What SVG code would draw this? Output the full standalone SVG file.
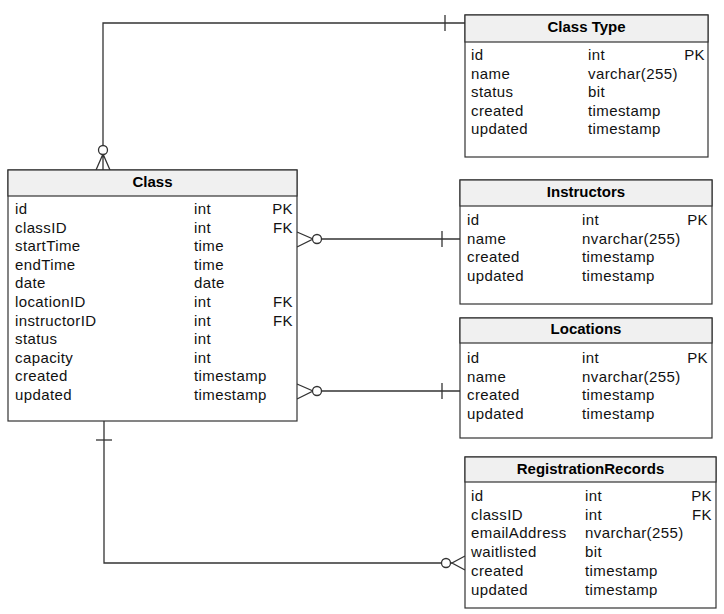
<svg xmlns="http://www.w3.org/2000/svg" width="724" height="614" viewBox="0 0 724 614">
  <style>
    .box { fill: #ffffff; stroke: #333333; stroke-width: 1.2; }
    .head { fill: #f0f0f0; stroke: #333333; stroke-width: 1.2; }
    .title { font-family: "Liberation Sans", Arial, sans-serif; font-size: 15px; font-weight: bold; fill: #000; text-anchor: middle; }
    .row { font-family: "Liberation Sans", Arial, sans-serif; font-size: 15px; fill: #111; letter-spacing: 0.4px; }
    .key { text-anchor: end; }
    .wire { fill: none; stroke: #333333; stroke-width: 1.3; }
    .ring { fill: #ffffff; stroke: #333333; stroke-width: 1.3; }
  </style>

  <!-- relationships -->
  <g id="connectors">
    <!-- Class (many, optional) to ClassType (one) -->
    <path class="wire" d="M103,154 V23 H465"/>
    <path class="wire" d="M445,15 V31"/>
    <path class="wire" d="M103,154 L96,170 M103,154 V170 M103,154 L110,170"/>
    <circle class="ring" cx="103" cy="150" r="4.5"/>

    <!-- Class (many, optional) to Instructors (one) -->
    <path class="wire" d="M313,239 H460"/>
    <path class="wire" d="M442,231 V247"/>
    <path class="wire" d="M297,232 L313,239 L297,247"/>
    <circle class="ring" cx="317" cy="239" r="4.5"/>

    <!-- Class (many, optional) to Locations (one) -->
    <path class="wire" d="M313,391 H460"/>
    <path class="wire" d="M442,383 V399"/>
    <path class="wire" d="M297,384 L313,391 L297,399"/>
    <circle class="ring" cx="317" cy="391" r="4.5"/>

    <!-- Class (one) to RegistrationRecords (many, optional) -->
    <path class="wire" d="M104,421 V563 H452"/>
    <path class="wire" d="M96,440 H112"/>
    <path class="wire" d="M465,556 L452,563 L465,570"/>
    <circle class="ring" cx="446" cy="563" r="4.5"/>
  </g>

  <!-- ClassType -->
  <g id="classtype">
    <rect class="box" x="465" y="15" width="243" height="142"/>
    <rect class="head" x="465" y="15" width="243" height="27"/>
    <text class="title" x="586.5" y="32">Class Type</text>
    <text class="row" x="471" y="60">id</text>
    <text class="row" x="588" y="60">int</text>
    <text class="row key" x="705" y="60">PK</text>
    <text class="row" x="471" y="78.5">name</text>
    <text class="row" x="588" y="78.5">varchar(255)</text>
    <text class="row" x="471" y="97">status</text>
    <text class="row" x="588" y="97">bit</text>
    <text class="row" x="471" y="115.5">created</text>
    <text class="row" x="588" y="115.5">timestamp</text>
    <text class="row" x="471" y="134">updated</text>
    <text class="row" x="588" y="134">timestamp</text>
  </g>

  <!-- Class -->
  <g id="class">
    <rect class="box" x="8" y="170" width="289" height="251"/>
    <rect class="head" x="8" y="170" width="289" height="26"/>
    <text class="title" x="152.5" y="187">Class</text>
    <text class="row" x="15" y="214">id</text>
    <text class="row" x="194" y="214">int</text>
    <text class="row key" x="293" y="214">PK</text>
    <text class="row" x="15" y="232.6">classID</text>
    <text class="row" x="194" y="232.6">int</text>
    <text class="row key" x="293" y="232.6">FK</text>
    <text class="row" x="15" y="251.2">startTime</text>
    <text class="row" x="194" y="251.2">time</text>
    <text class="row" x="15" y="269.8">endTime</text>
    <text class="row" x="194" y="269.8">time</text>
    <text class="row" x="15" y="288.4">date</text>
    <text class="row" x="194" y="288.4">date</text>
    <text class="row" x="15" y="307">locationID</text>
    <text class="row" x="194" y="307">int</text>
    <text class="row key" x="293" y="307">FK</text>
    <text class="row" x="15" y="325.6">instructorID</text>
    <text class="row" x="194" y="325.6">int</text>
    <text class="row key" x="293" y="325.6">FK</text>
    <text class="row" x="15" y="344.2">status</text>
    <text class="row" x="194" y="344.2">int</text>
    <text class="row" x="15" y="362.8">capacity</text>
    <text class="row" x="194" y="362.8">int</text>
    <text class="row" x="15" y="381.4">created</text>
    <text class="row" x="194" y="381.4">timestamp</text>
    <text class="row" x="15" y="400">updated</text>
    <text class="row" x="194" y="400">timestamp</text>
  </g>

  <!-- Instructors -->
  <g id="instructors">
    <rect class="box" x="460" y="180" width="252" height="124"/>
    <rect class="head" x="460" y="180" width="252" height="26"/>
    <text class="title" x="586" y="197">Instructors</text>
    <text class="row" x="467" y="225">id</text>
    <text class="row" x="582" y="225">int</text>
    <text class="row key" x="708" y="225">PK</text>
    <text class="row" x="467" y="243.6">name</text>
    <text class="row" x="582" y="243.6">nvarchar(255)</text>
    <text class="row" x="467" y="262.2">created</text>
    <text class="row" x="582" y="262.2">timestamp</text>
    <text class="row" x="467" y="280.8">updated</text>
    <text class="row" x="582" y="280.8">timestamp</text>
  </g>

  <!-- Locations -->
  <g id="locations">
    <rect class="box" x="460" y="318" width="252" height="120"/>
    <rect class="head" x="460" y="318" width="252" height="25"/>
    <text class="title" x="586" y="334">Locations</text>
    <text class="row" x="467" y="363">id</text>
    <text class="row" x="582" y="363">int</text>
    <text class="row key" x="708" y="363">PK</text>
    <text class="row" x="467" y="381.5">name</text>
    <text class="row" x="582" y="381.5">nvarchar(255)</text>
    <text class="row" x="467" y="400">created</text>
    <text class="row" x="582" y="400">timestamp</text>
    <text class="row" x="467" y="418.5">updated</text>
    <text class="row" x="582" y="418.5">timestamp</text>
  </g>

  <!-- RegistrationRecords -->
  <g id="registrationrecords">
    <rect class="box" x="465" y="457" width="251" height="151"/>
    <rect class="head" x="465" y="457" width="251" height="25"/>
    <text class="title" x="590.5" y="474">RegistrationRecords</text>
    <text class="row" x="471" y="501">id</text>
    <text class="row" x="585" y="501">int</text>
    <text class="row key" x="712" y="501">PK</text>
    <text class="row" x="471" y="519.7">classID</text>
    <text class="row" x="585" y="519.7">int</text>
    <text class="row key" x="712" y="519.7">FK</text>
    <text class="row" x="471" y="538.4">emailAddress</text>
    <text class="row" x="585" y="538.4">nvarchar(255)</text>
    <text class="row" x="471" y="557.1">waitlisted</text>
    <text class="row" x="585" y="557.1">bit</text>
    <text class="row" x="471" y="575.8">created</text>
    <text class="row" x="585" y="575.8">timestamp</text>
    <text class="row" x="471" y="594.5">updated</text>
    <text class="row" x="585" y="594.5">timestamp</text>
  </g>
</svg>
